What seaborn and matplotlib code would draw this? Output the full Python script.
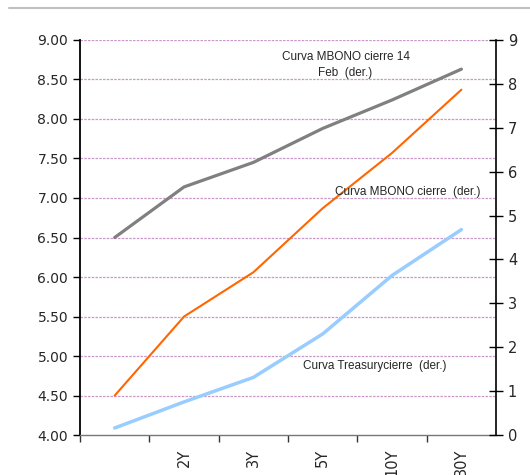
import matplotlib
matplotlib.use('Agg')
import matplotlib.pyplot as plt
import numpy as np
import pandas as pd
import seaborn as sns
from matplotlib.lines import Line2D

# datos de la curva
plazos = ["", "2Y", "3Y", "5Y", "10Y", "30Y"]
mbono_14feb = [6.50, 7.14, 7.45, 7.88, 8.24, 8.63]
mbono_cierre = [4.50, 5.50, 6.06, 6.87, 7.57, 8.37]
treasury_cierre = [4.09, 4.42, 4.73, 5.28, 6.02, 6.60]

left_ticks = [4.0, 4.5, 5.0, 5.5, 6.0, 6.5, 7.0, 7.5, 8.0, 8.5, 9.0]
right_ticks = list(range(0, 10))

series = {
    "Curva MBONO cierre 14 Feb": mbono_14feb,
    "Curva MBONO cierre": mbono_cierre,
    "Curva Treasury cierre": treasury_cierre,
}
colores = {
    "Curva MBONO cierre 14 Feb": "#808080",
    "Curva MBONO cierre": "#FF6600",
    "Curva Treasury cierre": "#99CCFF",
}
anchos = {
    "Curva MBONO cierre 14 Feb": 2.3,
    "Curva MBONO cierre": 1.5,
    "Curva Treasury cierre": 2.5,
}

df = pd.concat([
    pd.DataFrame({"pos": np.arange(len(plazos)), "valor": v, "serie": k})
    for k, v in series.items()
])

sns.set_style("white")
plt.rcParams['font.family'] = ['DejaVu Sans']

fig = plt.figure(figsize=(5.3, 4.75), dpi=100)
ax = fig.add_axes([0.151, 0.084, 0.785, 0.832])

for k in series:
    sns.lineplot(data=df[df["serie"] == k], x="pos", y="valor", ax=ax,
                 color=colores[k], linewidth=anchos[k], legend=False, zorder=3)

ax.set_xlim(-0.5, len(plazos) - 0.5)
ax.set_ylim(4.0, 9.0)
ax.set_yticks(left_ticks)
ax.set_yticklabels([f"{t:.2f}" for t in left_ticks], fontsize=10)
for t in left_ticks[1:]:
    ax.axhline(t, color="#C99AC9", linewidth=0.9, linestyle=(0, (2, 1)), zorder=1)

# ticks en los limites de cada categoria, etiquetas al centro
ax.set_xticks(np.arange(len(plazos)) - 0.5, minor=False)
ax.set_xticklabels([])
ax.set_xticks(np.arange(len(plazos)), minor=True)
ax.set_xticklabels(plazos, minor=True, rotation=90, fontsize=10.5)
ax.tick_params(axis="x", which="major", bottom=True, length=5, width=1,
               direction="out", color="#333333")
ax.tick_params(axis="x", which="minor", bottom=True, length=0, pad=10)
ax.tick_params(axis="y", left=True, length=5, width=1, direction="out", color="black")
ax.set_xlabel("")
ax.set_ylabel("")

ax.spines["top"].set_visible(False)
ax.spines["right"].set_visible(False)
ax.spines["bottom"].set_color("#777777")
ax.spines["bottom"].set_linewidth(1.0)
ax.spines["left"].set_color("black")
ax.spines["left"].set_linewidth(1.3)

ax2 = ax.twinx()
ax2.set_ylim(0, 9)
ax2.set_yticks(right_ticks)
ax2.set_yticklabels([str(t) for t in right_ticks], fontsize=10.5)
ax2.tick_params(axis="y", right=True, length=10, width=1, direction="inout", color="black")
ax2.spines["top"].set_visible(False)
ax2.spines["bottom"].set_visible(False)
ax2.spines["left"].set_visible(False)
ax2.spines["right"].set_color("black")
ax2.spines["right"].set_linewidth(1.2)

# etiquetas de las series
txt = dict(fontsize=8.5, family="Liberation Sans", ha="center", va="center")
ax.text(3.33, 8.68, "Curva MBONO cierre 14\nFeb  (der.)", linespacing=1.45, **txt)
ax.text(4.22, 7.07, "Curva MBONO cierre  (der.)", **txt)
ax.text(3.75, 4.88, "Curva Treasurycierre  (der.)", **txt)

# linea decorativa superior
fig.add_artist(Line2D([0.017, 1.0], [0.983, 0.983], color="#C0C0C0", linewidth=1.5))

fig.savefig("out.png", dpi=100)
